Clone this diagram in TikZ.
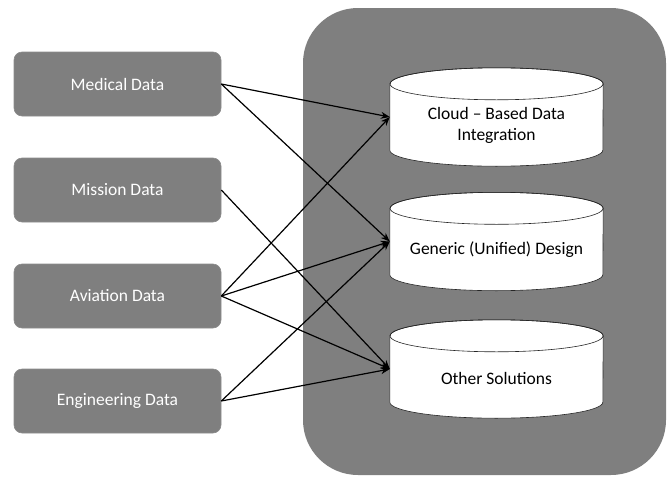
\documentclass[tikz,border=0pt]{standalone}
\usepackage{fontspec}
\setmainfont{Carlito}
\usetikzlibrary{arrows.meta}
\definecolor{boxgray}{HTML}{7F7F7F}
\definecolor{boxedge}{HTML}{8C8C8C}
\tikzset{
  srcbox/.style={draw=boxedge, fill=boxgray, rounded corners=8pt, minimum width=207pt, minimum height=64pt, text=white, font=\fontsize{17.5}{21}\selectfont, line width=0.6pt},
  cylbox/.style={minimum width=213pt, minimum height=98pt, inner sep=0pt},
  cyltext/.style={align=center, font=\fontsize{17.5}{21}\selectfont, text=black},
  cylfill/.style={fill=white, draw=black!85, line width=0.6pt},
  conn/.style={draw=black, line width=1.2pt, -{Stealth[length=9pt,width=7pt]}}
}
\newcommand{\mycyl}[1]{%
  \path[cylfill] ([yshift=-16pt]#1.north west) -- ([yshift=16pt]#1.south west)
    arc[start angle=180,end angle=360,x radius=106.5pt,y radius=16pt]
    -- ([yshift=-16pt]#1.north east)
    arc[start angle=0,end angle=180,x radius=106.5pt,y radius=16pt] -- cycle;
  \draw[black!85, line width=0.6pt] ([yshift=-16pt]#1.north) ellipse [x radius=106.5pt, y radius=16pt];
}
\begin{document}
\begin{tikzpicture}[x=1pt,y=-1pt]
\useasboundingbox (0,0) rectangle (667,477);
\fill[boxgray, rounded corners=55pt] (303,8) rectangle (666,475);

\node[srcbox] (med) at (117.5,84) {Medical Data};
\node[srcbox] (mis) at (117.5,190) {Mission Data};
\node[srcbox] (avi) at (117.5,296) {Aviation Data};
\node[srcbox] (eng) at (117.5,401) {Engineering Data};

\node[cylbox] (cloud) at (496.5,117) {};
\node[cylbox] (gen) at (496.5,241.5) {};
\node[cylbox] (oth) at (496.5,369) {};
\mycyl{cloud}
\mycyl{gen}
\mycyl{oth}
\node[cyltext] (cloudt) at ([yshift=-8.5pt]cloud.center) {Cloud – Based Data\\Integration};
\node[cyltext] (gent) at ([yshift=-8.5pt]gen.center) {Generic (Unified) Design};
\node[cyltext] (otht) at ([yshift=-9pt]oth.center) {Other Solutions};

\draw[conn] (med.east) -- (cloud.west);
\draw[conn] (med.east) -- (gen.west);
\draw[conn] (mis.east) -- (oth.west);
\draw[conn] (avi.east) -- (cloud.west);
\draw[conn] (avi.east) -- (gen.west);
\draw[conn] (avi.east) -- (oth.west);
\draw[conn] (eng.east) -- (gen.west);
\draw[conn] (eng.east) -- (oth.west);
\end{tikzpicture}
\end{document}
